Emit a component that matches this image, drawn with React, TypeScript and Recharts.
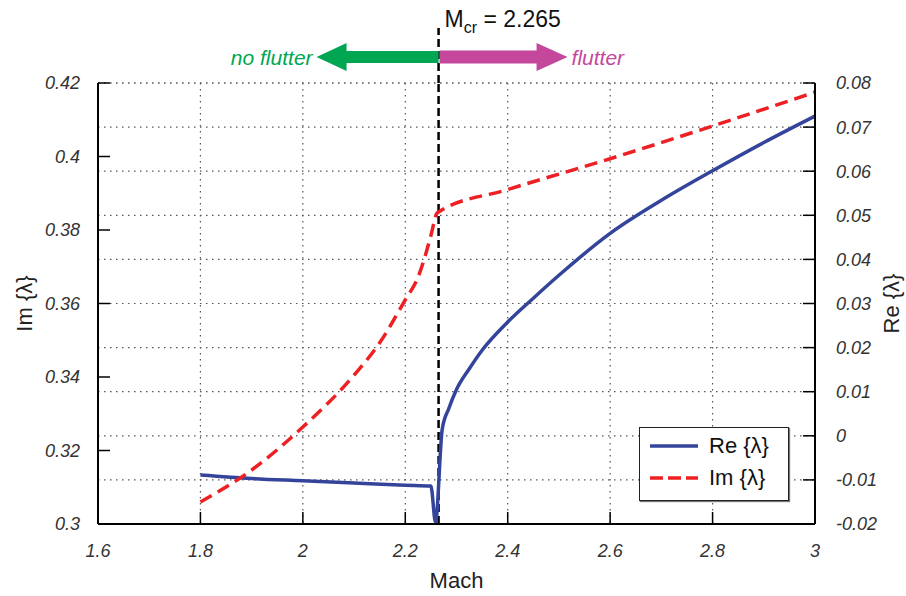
import React from 'react';
import { LineChart, Line, XAxis, YAxis, CartesianGrid, ReferenceLine, Legend } from 'recharts';

const FONT = '"Liberation Sans", Arial, Helvetica, sans-serif';

// axes
const MACH_TICKS = [1.6, 1.8, 2, 2.2, 2.4, 2.6, 2.8, 3];
const IM_TICKS = [0.3, 0.32, 0.34, 0.36, 0.38, 0.4, 0.42];
const RE_TICKS = [-0.02, -0.01, 0, 0.01, 0.02, 0.03, 0.04, 0.05, 0.06, 0.07, 0.08];
const M_CR = 2.265;

// Re{lambda}, right axis
const RE_MACH = [1.8, 1.9, 2.0, 2.1, 2.2, 2.25, 2.259, 2.272, 2.285, 2.3, 2.325, 2.35, 2.4, 2.45, 2.5, 2.6, 2.7, 2.8, 2.9, 3.0];
const RE_VALUES = [-0.0089, -0.0097, -0.0102, -0.0107, -0.0112, -0.0114, -0.0196, 0.0014, 0.0062, 0.0105, 0.0152, 0.0194, 0.0258, 0.0312, 0.0364, 0.0459, 0.0534, 0.0601, 0.0665, 0.0725];

// Im{lambda}, left axis
const IM_MACH = [1.8, 1.9, 2.0, 2.1, 2.15, 2.2, 2.225, 2.24, 2.25, 2.262, 2.265, 2.4, 2.6, 2.8, 3.0];
const IM_VALUES = [0.306, 0.3147, 0.3264, 0.3405, 0.3493, 0.361, 0.3672, 0.3735, 0.3785, 0.3846, 0.3849, 0.391, 0.3994, 0.4083, 0.4175];

const SERIES_ORDER = ['re', 'im'];

const reData = RE_MACH.map((m, i) => ({ mach: m, re: RE_VALUES[i] }));
const imData = IM_MACH.map((m, i) => ({ mach: m, im: IM_VALUES[i] }));

const BLUE = '#34449b';
const RED = '#ed2024';
const GREEN = '#00a651';
const MAGENTA = '#c4479c';
const TICK_LEN = 12;

const tickText = { fontFamily: FONT, fontSize: 18, fontStyle: 'italic' as const, fill: '#333' };

const LeftTick = ({ x, y, payload }: any) => (
  <g>
    <line x1={x} y1={y} x2={x + TICK_LEN} y2={y} stroke="#000" strokeWidth={1.5} />
    <text x={x - 18} y={y} dy="0.36em" textAnchor="end" {...tickText}>{payload.value}</text>
  </g>
);

const RightTick = ({ x, y, payload }: any) => (
  <g>
    <line x1={x} y1={y} x2={x - TICK_LEN} y2={y} stroke="#000" strokeWidth={1.5} />
    <text x={x + 21} y={y} dy="0.36em" textAnchor="start" {...tickText}>{payload.value}</text>
  </g>
);

const BottomTick = ({ x, y, payload }: any) => (
  <g>
    <line x1={x} y1={y} x2={x} y2={y - TICK_LEN} stroke="#000" strokeWidth={1.5} />
    <text x={x} y={y + 33} textAnchor="middle" {...tickText}>{payload.value}</text>
  </g>
);

const TopTick = ({ x, y }: any) => (
  <line x1={x} y1={y} x2={x} y2={y + TICK_LEN} stroke="#000" strokeWidth={1.5} />
);

const titleText = { fontFamily: FONT, fontSize: 22, fill: '#222' };

const XTitle = ({ viewBox }: any) => (
  <text x={viewBox.x + viewBox.width / 2} y={viewBox.y + 64} textAnchor="middle" {...titleText}>Mach</text>
);

const YTitle = ({ viewBox, text, dx }: any) => {
  const cx = viewBox.x + dx;
  const cy = viewBox.y + viewBox.height / 2;
  return (
    <text x={cx} y={cy} transform={`rotate(-90 ${cx} ${cy})`} textAnchor="middle" dominantBaseline="central" {...titleText}>
      {text}
    </text>
  );
};

// dashed M_cr marker with the flutter arrows above the plot
const McrMarker = ({ viewBox }: any) => {
  const x = viewBox.x;
  const top = viewBox.y;
  const ay = top - 26;
  return (
    <g>
      <line x1={x} y1={top} x2={x} y2={top - 55} stroke="#000" strokeWidth={2.5} strokeDasharray="8 4" />
      <rect x={x - 93} y={ay - 6} width={93} height={12} fill={GREEN} />
      <polygon points={`${x - 122},${ay} ${x - 92},${ay - 14} ${x - 92},${ay + 14}`} fill={GREEN} />
      <rect x={x + 1} y={ay - 6.5} width={99} height={13} fill={MAGENTA} />
      <polygon points={`${x + 129},${ay} ${x + 98},${ay - 14} ${x + 98},${ay + 14}`} fill={MAGENTA} />
      <text x={x - 126} y={ay} dy="0.36em" textAnchor="end" fontFamily={FONT} fontSize={21} fontStyle="italic" fill={GREEN}>no flutter</text>
      <text x={x + 133} y={ay} dy="0.36em" textAnchor="start" fontFamily={FONT} fontSize={21} fontStyle="italic" fill={MAGENTA}>flutter</text>
      <text x={x + 6} y={top - 56} fontFamily={FONT} fontSize={23} fill="#111">
        M<tspan fontSize={16} dy={6}>cr</tspan><tspan dy={-6}> = 2.265</tspan>
      </text>
    </g>
  );
};

const LegendBox = ({ payload }: any) => {
  const items = [...(payload || [])].sort(
    (a: any, b: any) => SERIES_ORDER.indexOf(a.dataKey) - SERIES_ORDER.indexOf(b.dataKey)
  );
  return (
    <div style={{ width: 150, height: 74, boxSizing: 'border-box', border: '1.5px solid #222', boxShadow: '1px 1px 1px #777', background: '#fff', padding: '2px 0 0 10px' }}>
      {items.map((entry: any) => (
        <div key={entry.value} style={{ display: 'flex', alignItems: 'center', height: 32 }}>
          <svg width={48} height={6}>
            <line x1={0} y1={3} x2={48} y2={3} stroke={entry.color} strokeWidth={3.5} strokeDasharray={entry.dataKey === 'im' ? '13 5' : undefined} />
          </svg>
          <span style={{ marginLeft: 11, fontFamily: FONT, fontSize: 22, color: '#111', lineHeight: '32px' }}>{entry.value}</span>
        </div>
      ))}
    </div>
  );
};

export default function App() {
  return (
    <div style={{ width: 906, height: 596, background: '#fff' }}>
      <style>{'body{margin:0}'}</style>
      <LineChart width={906} height={596} margin={{ top: 83, right: 0, bottom: 0, left: 0 }}>
        <CartesianGrid stroke="#555" strokeWidth={1.2} strokeDasharray="1.5 4.5" />
        <CartesianGrid yAxisId="right" vertical={false} stroke="#555" strokeWidth={1.2} strokeDasharray="1.5 4.5" />
        <XAxis
          dataKey="mach"
          type="number"
          domain={[1.6, 3]}
          ticks={MACH_TICKS}
          interval={0}
          height={72}
          tickSize={0}
          tickMargin={0}
          tickLine={false}
          axisLine={{ stroke: '#000', strokeWidth: 2 }}
          tick={<BottomTick />}
          label={(p: any) => <XTitle {...p} />}
        />
        <XAxis
          xAxisId="top"
          orientation="top"
          type="number"
          domain={[1.6, 3]}
          ticks={MACH_TICKS}
          interval={0}
          height={0}
          tickSize={0}
          tickMargin={0}
          tickLine={false}
          axisLine={{ stroke: '#000', strokeWidth: 2 }}
          tick={<TopTick />}
        />
        <YAxis
          yAxisId="left"
          type="number"
          domain={[0.3, 0.42]}
          ticks={IM_TICKS}
          interval={0}
          width={98}
          tickSize={0}
          tickMargin={0}
          tickLine={false}
          axisLine={{ stroke: '#000', strokeWidth: 2 }}
          tick={<LeftTick />}
          label={(p: any) => <YTitle {...p} text="Im {λ}" dx={24} />}
        />
        <YAxis
          yAxisId="right"
          orientation="right"
          type="number"
          domain={[-0.02, 0.08]}
          ticks={RE_TICKS}
          interval={0}
          width={91}
          tickSize={0}
          tickMargin={0}
          tickLine={false}
          axisLine={{ stroke: '#000', strokeWidth: 2 }}
          tick={<RightTick />}
          label={(p: any) => <YTitle {...p} text="Re {λ}" dx={76} />}
        />
        <ReferenceLine
          yAxisId="left"
          x={M_CR}
          stroke="#000"
          strokeWidth={2.5}
          strokeDasharray="8 4"
          label={(p: any) => <McrMarker {...p} />}
        />
        <Line
          yAxisId="right"
          data={reData}
          dataKey="re"
          name="Re {λ}"
          type="monotone"
          stroke={BLUE}
          strokeWidth={3.5}
          dot={false}
          activeDot={false}
          isAnimationActive={false}
        />
        <Line
          yAxisId="left"
          data={imData}
          dataKey="im"
          name="Im {λ}"
          type="monotone"
          stroke={RED}
          strokeWidth={3.5}
          strokeDasharray="13 7"
          dot={false}
          activeDot={false}
          isAnimationActive={false}
        />
        <Legend
          layout="vertical"
          align="center"
          verticalAlign="middle"
          content={<LegendBox />}
          wrapperStyle={{ left: 639, top: 427, width: 150, height: 74 }}
        />
      </LineChart>
    </div>
  );
}
